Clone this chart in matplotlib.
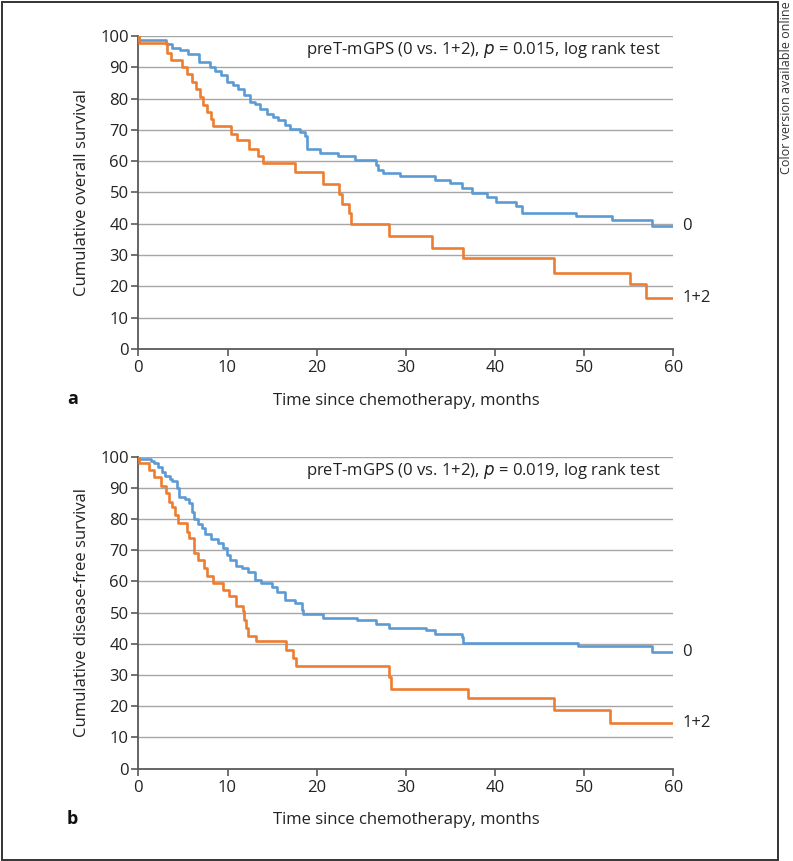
import matplotlib.pyplot as plt
from matplotlib.patches import Rectangle

plt.rcParams['font.family'] = ['Open Sans', 'DejaVu Sans']

# Panel a: cumulative overall survival (step times in months, survival in %)
os_t_0 = [0, 0.1, 3.1, 3.8, 4.7, 5.6, 6.8, 8.0, 8.6, 9.3, 9.9, 10.6, 11.2, 11.8, 12.5,
          13.1, 13.6, 14.4, 15.1, 15.7, 16.4, 17.0, 18.1, 18.7, 18.9, 20.4, 22.4, 24.3,
          26.6, 26.9, 27.4, 29.4, 33.3, 35.0, 36.3, 37.4, 39.1, 40.1, 42.4, 43.0, 49.1,
          53.1, 57.6, 60]
os_s_0 = [100, 98.8, 97.3, 96.3, 95.4, 94.4, 91.7, 90.1, 88.7, 87.4, 85.3, 84.3, 83.2, 81.1,
          79.0, 78.4, 76.8, 75.2, 74.1, 73.1, 71.5, 70.2, 69.4, 67.9, 63.8, 62.5, 61.8, 60.4,
          58.8, 57.2, 56.1, 55.3, 54.0, 52.9, 51.5, 49.7, 48.4, 47.0, 45.7, 43.6, 42.6,
          41.2, 39.4, 39.4]
os_t_12 = [0, 0.1, 3.2, 3.7, 4.9, 5.5, 6.0, 6.5, 6.9, 7.2, 7.7, 8.2, 8.4, 10.4, 11.1, 12.4,
           13.4, 14.0, 17.6, 20.7, 22.5, 22.8, 23.6, 23.8, 28.1, 32.9, 36.4, 46.6, 55.1,
           56.9, 60]
os_s_12 = [100, 97.8, 94.7, 92.2, 90.1, 88.0, 85.3, 83.2, 80.5, 77.9, 75.7, 73.6, 71.2, 68.8,
           66.7, 64.0, 61.6, 59.3, 56.5, 52.7, 49.5, 46.4, 43.3, 39.9, 36.2, 32.4, 29.2,
           24.4, 20.9, 16.3, 16.3]

# Panel b: cumulative disease-free survival
dfs_t_0 = [0, 0.1, 1.4, 1.7, 2.2, 2.6, 3.0, 3.5, 3.8, 4.3, 4.6, 5.2, 5.7, 6.0, 6.2, 6.7,
           7.1, 7.5, 8.2, 8.9, 9.5, 9.9, 10.3, 11.0, 11.6, 12.3, 13.1, 13.8, 15.0, 15.5,
           16.4, 17.6, 18.3, 18.5, 20.7, 24.5, 26.6, 28.1, 32.3, 33.3, 36.3, 36.4, 49.3,
           57.6, 60]
dfs_s_0 = [100, 99.3, 98.6, 97.9, 96.6, 95.2, 93.9, 92.9, 92.1, 89.9, 87.0, 86.3, 85.0, 82.4,
           79.9, 78.3, 77.0, 75.2, 73.5, 72.4, 70.6, 68.5, 66.9, 65.1, 64.2, 63.1, 60.5,
           59.4, 58.3, 56.7, 54.1, 53.0, 51.0, 49.7, 48.3, 47.6, 46.3, 45.1, 44.4, 43.3,
           42.3, 40.4, 39.4, 37.4, 37.4]
dfs_t_12 = [0, 0.1, 1.2, 1.8, 2.5, 3.1, 3.4, 3.8, 4.1, 4.4, 5.5, 5.7, 6.2, 6.7, 7.4, 7.7,
            8.4, 9.5, 10.2, 11.0, 11.7, 11.9, 12.1, 12.3, 13.2, 16.6, 17.3, 17.7, 28.1,
            28.3, 37.0, 46.6, 52.9, 60]
dfs_s_12 = [100, 98.1, 95.7, 93.6, 90.6, 88.3, 85.6, 84.0, 81.3, 78.7, 76.0, 73.9, 69.0,
            66.9, 64.2, 61.6, 59.4, 57.3, 55.2, 52.3, 50.4, 47.6, 45.0, 42.6, 40.8, 38.1,
            35.4, 32.8, 29.4, 25.7, 22.5, 18.8, 14.8, 14.8]

group_labels = ['0', '1+2']
x_ticks = [0, 10, 20, 30, 40, 50, 60]
y_ticks = [0, 10, 20, 30, 40, 50, 60, 70, 80, 90, 100]

BLUE = '#5B9BD5'
ORANGE = '#ED7D31'
SPINE = '#595959'
GRID = '#A6A6A6'
FS = 12

panels = [
    dict(pos=[0.1745, 0.5947, 0.6745, 0.3635], t0=os_t_0, s0=os_s_0, t12=os_t_12, s12=os_s_12,
         ylabel='Cumulative overall survival', p='0.015', letter='a'),
    dict(pos=[0.1745, 0.1072, 0.6745, 0.3624], t0=dfs_t_0, s0=dfs_s_0, t12=dfs_t_12, s12=dfs_s_12,
         ylabel='Cumulative disease-free survival', p='0.019', letter='b'),
]

fig = plt.figure(figsize=(7.93, 8.61), dpi=100)

for pnl in panels:
    ax = fig.add_axes(pnl['pos'])
    for yv in y_ticks[1:]:
        ax.axhline(yv, color=GRID, lw=1.0, zorder=1)
    ax.step(pnl['t0'], pnl['s0'], where='post', color=BLUE, lw=1.9, zorder=3)
    ax.step(pnl['t12'], pnl['s12'], where='post', color=ORANGE, lw=1.9, zorder=4)
    ax.set_xlim(0, 60)
    ax.set_ylim(0, 100)
    ax.set_xticks(x_ticks)
    ax.set_yticks(y_ticks)
    ax.tick_params(labelsize=FS, length=5, width=1.2, color=SPINE, labelcolor='#222222', pad=2)
    ax.tick_params(axis='x', pad=3)
    for side in ['top', 'right']:
        ax.spines[side].set_visible(False)
    for side in ['left', 'bottom']:
        ax.spines[side].set_color(SPINE)
        ax.spines[side].set_linewidth(1.3)
    ax.set_ylabel(pnl['ylabel'], fontsize=FS, color='#222222', labelpad=7)
    ax.set_xlabel('Time since chemotherapy, months', fontsize=FS, color='#222222', labelpad=12)
    ax.text(0.977, 0.954, 'preT-mGPS (0 vs. 1+2), $\\it{p}$ = ' + pnl['p'] + ', log rank test',
            transform=ax.transAxes, ha='right', va='center', fontsize=FS, color='#222222')
    ax.text(61.0, pnl['s0'][-1], group_labels[0], ha='left', va='center', fontsize=FS,
            color='#222222', clip_on=False)
    ax.text(61.0, pnl['s12'][-1], group_labels[1], ha='left', va='center', fontsize=FS,
            color='#222222', clip_on=False)
    ax.text(-0.123, -0.16, pnl['letter'], transform=ax.transAxes, ha='center', va='center',
            fontsize=13, fontweight='bold', color='#111111')

fig.patches.append(Rectangle((1.5 / 793, 1.5 / 861), 776.5 / 793, 858 / 861,
                             transform=fig.transFigure, fill=False, edgecolor='#333333',
                             lw=1.4))
fig.text(786 / 793, 1 - 1 / 861, 'Color version available online', rotation=90,
         ha='center', va='top', fontsize=9, color='#333333')

fig.savefig('out.png', dpi=100)
